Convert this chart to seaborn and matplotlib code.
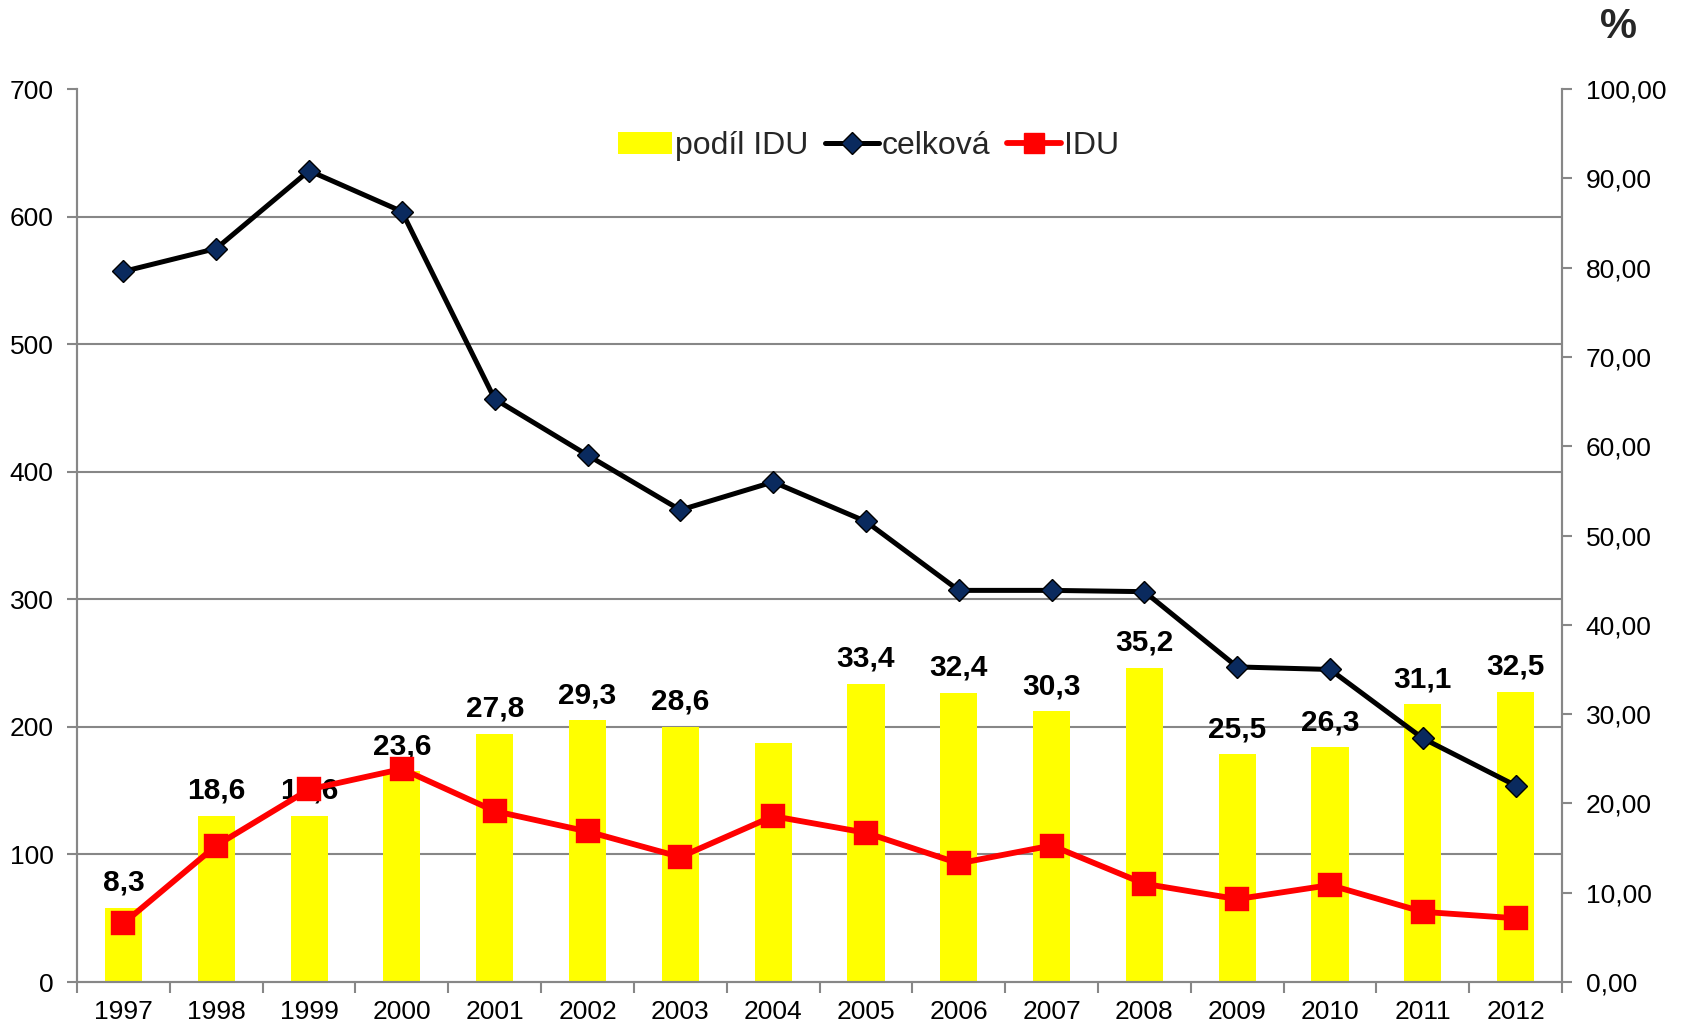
import matplotlib
matplotlib.use("Agg")
import matplotlib.pyplot as plt
import seaborn as sns
import numpy as np
import pandas as pd
from matplotlib.ticker import FuncFormatter, FixedLocator
from matplotlib.patches import Patch
from matplotlib.lines import Line2D

years = ["1997", "1998", "1999", "2000", "2001", "2002", "2003", "2004",
         "2005", "2006", "2007", "2008", "2009", "2010", "2011", "2012"]
podil_idu = [8.3, 18.6, 18.6, 23.6, 27.8, 29.3, 28.6, 26.8,
             33.4, 32.4, 30.3, 35.2, 25.5, 26.3, 31.1, 32.5]
celkova = [557, 575, 636, 604, 457, 413, 370, 392,
           361, 307, 307, 306, 247, 245, 191, 154]
idu = [46, 107, 151, 167, 134, 118, 98, 130,
       117, 93, 107, 77, 65, 76, 55, 50]
unlabeled_years = ["2004"]
left_ticks = [0, 100, 200, 300, 400, 500, 600, 700]
right_ticks = [0, 10, 20, 30, 40, 50, 60, 70, 80, 90, 100]

sns.set_theme(style="white")
plt.rcParams['font.family'] = ['Liberation Sans', 'DejaVu Sans']

GRAY = "#878787"
NAVY = "#0a2a5e"
fig = plt.figure(figsize=(16.82, 10.27), dpi=100)
axb = fig.add_axes([0.0458, 0.0438, 0.9287 - 0.0458, 0.9133 - 0.0438])

df = pd.DataFrame({"rok": years, "podil": podil_idu, "celkova": celkova, "idu": idu})

sns.barplot(data=df, x="rok", y="podil", ax=axb, color="#FFFF00",
            saturation=1, width=0.4, edgecolor="none")
axb.set_ylim(0, 100)
axb.set_xlim(-0.5, len(years) - 0.5)
axb.set_xlabel("")
axb.set_ylabel("")

labels = ["" if y in unlabeled_years else f"{v:.1f}".replace(".", ",")
          for y, v in zip(years, podil_idu)]
axb.bar_label(axb.containers[0], labels=labels, padding=8,
              fontsize=21.5, fontweight="bold", color="black")

axl = axb.twinx()
sns.pointplot(data=df, x="rok", y="celkova", ax=axl, color="black",
              markers="D", linestyles="-", errorbar=None,
              linewidth=3.6, markersize=11, markerfacecolor=NAVY,
              markeredgecolor="black", markeredgewidth=1)
sns.pointplot(data=df, x="rok", y="idu", ax=axl, color="#FF0000",
              markers="s", linestyles="-", errorbar=None,
              linewidth=4.2, markersize=15, markerfacecolor="#FF0000",
              markeredgecolor="#FF0000")
axl.set_ylim(0, 700)
axl.set_xlim(-0.5, len(years) - 0.5)
axl.set_ylabel("")
axl.set_xlabel("")
if axl.get_legend():
    axl.get_legend().remove()
if axb.get_legend():
    axb.get_legend().remove()

# right axis (percent) for bars
axb.yaxis.tick_right()
axb.set_yticks(right_ticks)
axb.yaxis.set_major_formatter(FuncFormatter(lambda v, p: f"{v:.2f}".replace(".", ",")))
axb.yaxis.set_minor_locator(FixedLocator([t / 700 * 100 for t in left_ticks]))
axb.grid(False)
axb.grid(True, which="minor", axis="y", color=GRAY, linewidth=1.5)
axb.set_axisbelow(True)
axb.tick_params(axis="y", which="minor", length=0, left=False, right=False)
axb.tick_params(axis="y", which="major", length=7, width=1.5, color=GRAY,
                labelcolor="black", direction="out", labelsize=19, pad=10,
                right=True, left=False, labelright=True, labelleft=False)

# left axis (counts) for lines
axl.yaxis.tick_left()
axl.set_yticks(left_ticks)
axl.grid(False)
axl.tick_params(axis="y", length=7, width=1.5, color=GRAY, labelcolor="black",
                direction="out", labelsize=19, pad=10, left=True, right=False,
                labelleft=True, labelright=False)

# x axis: labels at centres, tick marks at category boundaries
axb.set_xticks(range(len(years)))
axb.set_xticklabels(years)
axb.xaxis.set_minor_locator(FixedLocator(np.arange(-0.5, len(years), 1.0)))
axb.tick_params(axis="x", which="major", length=0, labelsize=19, pad=13,
                labelcolor="black", bottom=True)
axb.tick_params(axis="x", which="minor", length=8, width=1.5, color=GRAY,
                direction="out", bottom=True)
axl.tick_params(axis="x", which="both", length=0, labelbottom=False)

for ax in (axb, axl):
    ax.spines["top"].set_visible(False)
    for s in ("left", "right", "bottom"):
        ax.spines[s].set_color(GRAY)
        ax.spines[s].set_linewidth(1.5)
    ax.set_facecolor("none")

h_bar = Patch(facecolor="#FFFF00", edgecolor="none")
h_tot = Line2D([], [], color="black", linewidth=3.6, marker="D", markersize=11,
               markerfacecolor=NAVY, markeredgecolor="black")
h_idu = Line2D([], [], color="#FF0000", linewidth=4.2, marker="s", markersize=15,
               markerfacecolor="#FF0000", markeredgecolor="#FF0000")
axl.legend([h_bar, h_tot, h_idu], ["podíl IDU", "celková", "IDU"],
           loc="center", bbox_to_anchor=(0.533, 0.936), ncol=3, frameon=False,
           fontsize=23, handlelength=1.7, handletextpad=0.1, columnspacing=0.5,
           handleheight=0.7)

fig.text(0.9625, 0.974, "%", fontsize=30, fontweight="bold", ha="center", va="center")

fig.savefig("out.png", dpi=100)
